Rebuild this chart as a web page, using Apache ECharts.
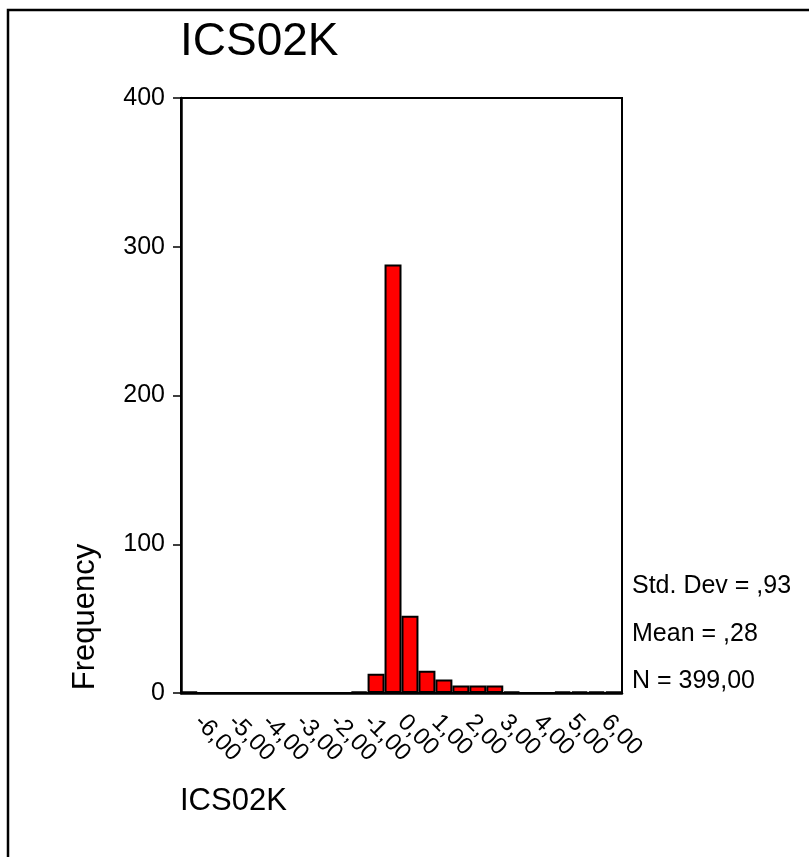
<!DOCTYPE html>
<html>
<head>
<meta charset="utf-8">
<script src="https://cdn.jsdelivr.net/npm/echarts@6/dist/echarts.min.js"></script>
<style>
  html, body { margin: 0; padding: 0; background: #fff; }
  #histChart { width: 809px; height: 857px; }
</style>
</head>
<body>
<div id="histChart"></div>
<script>
// bin centres (width 0,50) and counts
var binCenters = [-6, -5.5, -5, -4.5, -4, -3.5, -3, -2.5, -2, -1.5, -1, -0.5, 0,
                  0.5, 1, 1.5, 2, 2.5, 3, 3.5, 4, 4.5, 5, 5.5, 6, 6.5];
var counts = [1, 0, 0, 0, 0, 0, 0, 0, 0, 0, 1, 13, 288,
              52, 15, 9, 5, 5, 5, 1, 0, 0, 1, 1, 1, 1];
var xTickLabels = ['-6,00', '-5,00', '-4,00', '-3,00', '-2,00', '-1,00', '0,00',
                   '1,00', '2,00', '3,00', '4,00', '5,00', '6,00'];
var yTicks = [0, 100, 200, 300, 400];
var statLines = ['Std. Dev = ,93', 'Mean = ,28', 'N = 399,00'];
var varName = 'ICS02K';

var font = 'Liberation Sans, Arial, sans-serif';

var histChart = echarts.init(document.getElementById('histChart'));
var option = {
    backgroundColor: '#fff',
    animation: false,
    grid: {
        left: 181,
        top: 98,
        width: 441,
        height: 595,
        show: true,
        borderColor: '#000',
        borderWidth: 2,
        containLabel: false
    },
    xAxis: {
        type: 'category',
        data: binCenters,
        boundaryGap: true,
        axisLine: { lineStyle: { color: '#000', width: 2.5 } },
        axisTick: {
            alignWithLabel: true,
            interval: 1,
            length: 7,
            lineStyle: { color: '#000', width: 1.5 }
        },
        axisLabel: {
            interval: 1,
            rotate: -45,
            margin: 17,
            color: '#000',
            fontFamily: font,
            fontSize: 24,
            padding: [0, 0, 0, 12],
            formatter: function (v, idx) {
                return idx % 2 === 0 ? xTickLabels[idx / 2] : '';
            }
        },
        splitLine: { show: false }
    },
    yAxis: {
        type: 'value',
        min: yTicks[0],
        max: yTicks[yTicks.length - 1],
        interval: 100,
        axisLine: { show: true, lineStyle: { color: '#000', width: 2.5 } },
        axisTick: { show: true, length: 8, lineStyle: { color: '#000', width: 1.5 } },
        axisLabel: { color: '#000', fontFamily: font, fontSize: 25, margin: 16 },
        splitLine: { show: false }
    },
    series: [{
        type: 'bar',
        data: counts,
        barCategoryGap: '0%',
        itemStyle: {
            color: '#ff0000',
            borderColor: '#000',
            borderWidth: 2
        }
    }],
    graphic: [
        // outer frame (left and top edges visible)
        {
            type: 'rect',
            shape: { x: 8, y: 10, width: 1000, height: 1000 },
            style: { fill: null, stroke: '#000', lineWidth: 2.5 },
            silent: true
        },
        {
            type: 'text', left: 180, top: 19,
            style: { text: varName, font: '46px ' + font, fill: '#000' }
        },
        {
            type: 'text', x: 85, y: 617, rotation: Math.PI / 2,
            style: { text: 'Frequency', font: '31px ' + font, fill: '#000',
                     align: 'center', verticalAlign: 'middle' }
        },
        {
            type: 'text', x: 632, y: 586,
            style: { text: statLines[0], font: '25px ' + font, fill: '#000', verticalAlign: 'middle' }
        },
        {
            type: 'text', x: 632, y: 634,
            style: { text: statLines[1], font: '25px ' + font, fill: '#000', verticalAlign: 'middle' }
        },
        {
            type: 'text', x: 632, y: 681,
            style: { text: statLines[2], font: '25px ' + font, fill: '#000', verticalAlign: 'middle' }
        },
        {
            type: 'text', x: 180, y: 801,
            style: { text: varName, font: '31px ' + font, fill: '#000', verticalAlign: 'middle' }
        }
    ]
};
histChart.setOption(option);
</script>
</body>
</html>
